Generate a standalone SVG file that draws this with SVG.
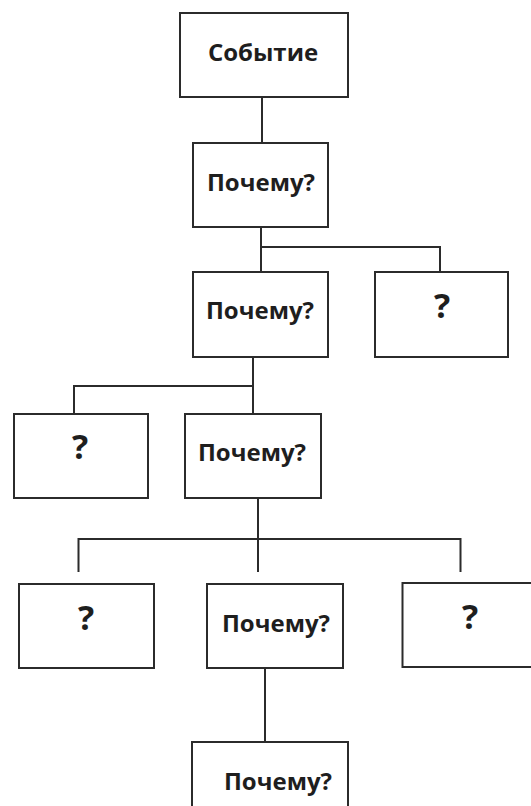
<svg xmlns="http://www.w3.org/2000/svg" width="531" height="806" viewBox="0 0 531 806">
<style>
.box{fill:#fff;stroke:#2b2b2b;stroke-width:2}
.lbl{font-family:"Open Sans","Noto Sans","DejaVu Sans",sans-serif;font-weight:700;font-size:24px;fill:#1e1e1e;text-anchor:middle}
.q{font-size:34px}
#connectors path{fill:none;stroke:#2b2b2b;stroke-width:2}
</style>
<rect width="531" height="806" fill="#fff"/>
<g id="connectors">
<path d="M262 97V143"/>
<path d="M261 227V272M261 247H440V272"/>
<path d="M253 357V414M253 386H74V414"/>
<path d="M258 498V572M78.5 572V539H460.5V572"/>
<path d="M265 668V743"/>
</g>
<g id="n1"><rect class="box" x="180" y="13" width="168" height="84"/><text class="lbl" x="263" y="61">Событие</text></g>
<g id="n2"><rect class="box" x="193" y="143" width="135" height="84"/><text class="lbl" x="261" y="191">Почему?</text></g>
<g id="n3"><rect class="box" x="193" y="272" width="135" height="85"/><text class="lbl" x="260" y="319">Почему?</text></g>
<g id="n4"><rect class="box" x="375" y="272" width="133" height="85"/><text class="lbl q" x="442" y="318">?</text></g>
<g id="n5"><rect class="box" x="14" y="414" width="134" height="84"/><text class="lbl q" x="80" y="459">?</text></g>
<g id="n6"><rect class="box" x="185" y="414" width="136" height="84"/><text class="lbl" x="252" y="461">Почему?</text></g>
<g id="n7"><rect class="box" x="19" y="584" width="135" height="84"/><text class="lbl q" x="86" y="630">?</text></g>
<g id="n8"><rect class="box" x="207" y="584" width="136" height="84"/><text class="lbl" x="276" y="632">Почему?</text></g>
<g id="n9"><rect class="box" x="402.5" y="583" width="140" height="84"/><text class="lbl q" x="470" y="629">?</text></g>
<g id="n10"><rect class="box" x="192" y="742" width="156" height="80"/><text class="lbl" x="278" y="790">Почему?</text></g>
</svg>
